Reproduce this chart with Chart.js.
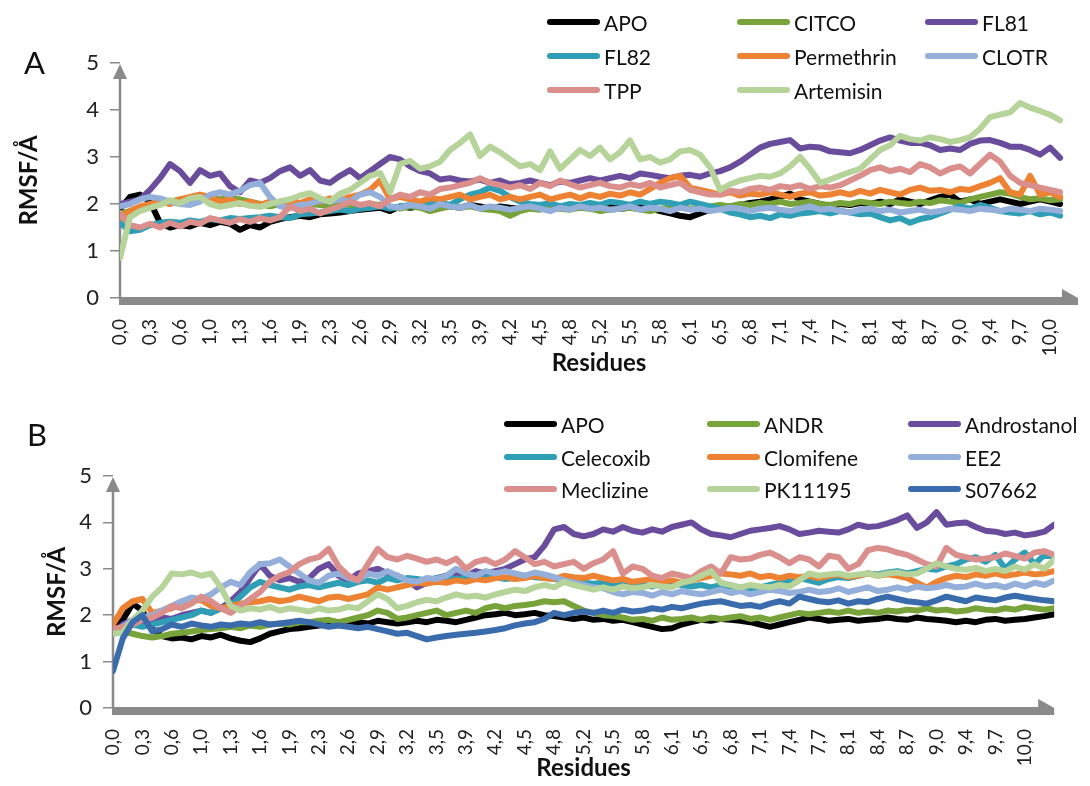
<!DOCTYPE html>
<html>
<head>
<meta charset="utf-8">
<title>RMSF per residue</title>
<script src="https://cdn.jsdelivr.net/npm/chart.js@4.4.1/dist/chart.umd.min.js"></script>
<style>
  html, body { margin: 0; padding: 0; background: #fff; }
  #page { position: relative; width: 1090px; height: 786px; overflow: hidden; font-family: Lato, "Open Sans", sans-serif; }
  .panel { position: absolute; left: 0; width: 1090px; height: 393px; }
  #panelA { top: 0; }
  #panelB { top: 393px; }
  .panel canvas { position: absolute; left: 0; top: 0; }
  .letter { position: absolute; font-size: 31px; color: #111; line-height: 1; }
  .item { position: absolute; display: flex; align-items: center; height: 26px; font-size: 21px; color: #111; white-space: nowrap; }
  .swatch { display: inline-block; width: 53px; height: 6px; border-radius: 3px; margin-right: 4px; }
</style>
</head>
<body>
<div id="page">
  <div class="panel" id="panelA">
    <canvas id="chartA" width="1090" height="393"></canvas>
    <div class="letter" style="left:24px;top:47px;">A</div>
  </div>
  <div class="panel" id="panelB">
    <canvas id="chartB" width="1090" height="393"></canvas>
    <div class="letter" style="left:27px;top:26px;">B</div>
  </div>
</div>
<script>
// Residue tick labels shared by both panels
const residueTicks = ['0,0','0,3','0,6','1,0','1,3','1,6','1,9','2,3','2,6','2,9','3,2','3,5','3,9','4,2','4,5','4,8',
  '5,2','5,5','5,8','6,1','6,5','6,8','7,1','7,4','7,7','8,1','8,4','8,7','9,0','9,4','9,7','10,0'];
// samples per tick interval
const POINTS_PER_TICK = 3;

// ---- Panel A ----
const namesA = ['APO', 'CITCO', 'FL81', 'FL82', 'Permethrin', 'CLOTR', 'TPP', 'Artemisin'];
const colorsA = ['#000000', '#77A33A', '#6A4C9C', '#2E9FB5', '#EE8233', '#94AFDA', '#DA8F8C', '#B6D39A'];

const apoA = [1.9,2.15,2.2,2.05,1.6,1.5,1.55,1.52,1.6,1.55,
  1.62,1.58,1.45,1.55,1.5,1.62,1.68,1.72,1.75,1.72,
  1.78,1.8,1.82,1.85,1.88,1.9,1.92,1.85,1.95,1.92,
  1.95,1.92,1.98,1.95,1.92,1.98,1.95,1.9,1.95,1.92,
  1.9,1.95,1.92,1.88,1.95,1.92,1.95,1.9,1.92,1.95,
  1.9,1.92,1.95,1.9,1.85,1.8,1.75,1.72,1.8,1.88,
  1.9,1.95,1.98,2.02,2.05,2.1,2.15,2.22,2.1,2.05,
  2.0,1.95,2.0,1.98,2.02,2.0,2.05,2.0,2.1,2.05,
  2.0,2.08,2.15,2.2,2.05,2.1,2.0,2.05,2.1,2.05,
  2.0,2.05,2.1,2.05,2.0];
const citcoA = [1.8,1.85,1.9,1.95,2.0,2.05,2.1,2.05,2.1,2.15,
  2.1,2.15,2.1,2.05,2.0,1.95,2.0,1.98,2.02,2.0,
  1.98,1.95,2.0,1.98,1.95,2.0,1.98,1.95,1.9,1.95,
  1.92,1.85,1.9,1.95,1.92,1.95,1.9,1.88,1.85,1.75,
  1.85,1.9,1.88,1.92,1.9,1.88,1.92,1.9,1.85,1.88,
  1.9,1.92,1.88,1.85,1.9,1.92,1.95,1.9,1.92,1.95,
  1.98,1.95,2.0,1.98,2.02,2.0,2.05,2.0,2.02,2.05,
  2.0,1.98,2.02,2.0,2.05,2.02,2.0,2.05,2.02,2.0,
  2.05,2.02,2.08,2.05,2.02,2.1,2.15,2.2,2.25,2.22,
  2.15,2.1,2.12,2.08,2.1];
const fl81A = [2.0,2.05,2.1,2.3,2.55,2.85,2.7,2.45,2.72,2.6,
  2.65,2.38,2.25,2.5,2.45,2.55,2.7,2.78,2.6,2.72,
  2.5,2.45,2.6,2.72,2.55,2.7,2.85,3.0,2.95,2.8,
  2.7,2.65,2.52,2.55,2.5,2.48,2.52,2.45,2.5,2.42,
  2.45,2.5,2.45,2.4,2.48,2.45,2.5,2.55,2.5,2.55,
  2.6,2.55,2.65,2.62,2.58,2.55,2.6,2.62,2.58,2.65,
  2.7,2.78,2.9,3.05,3.2,3.28,3.32,3.36,3.18,3.22,
  3.2,3.12,3.1,3.08,3.15,3.25,3.35,3.42,3.35,3.3,
  3.3,3.25,3.15,3.18,3.15,3.28,3.35,3.36,3.3,3.22,
  3.22,3.15,3.05,3.2,2.98];
const fl82A = [1.6,1.42,1.45,1.55,1.6,1.62,1.6,1.65,1.62,1.68,
  1.65,1.7,1.68,1.7,1.72,1.75,1.72,1.7,1.78,1.8,
  1.82,1.85,1.88,1.85,1.9,1.92,1.95,1.9,1.95,1.98,
  1.95,2.0,2.02,1.98,2.1,2.2,2.25,2.35,2.28,2.15,
  2.05,2.0,1.98,2.02,1.95,2.0,1.98,2.02,1.98,2.05,
  2.02,1.98,2.05,2.0,2.05,2.02,1.98,2.05,2.0,1.95,
  1.9,1.82,1.78,1.72,1.75,1.7,1.78,1.75,1.8,1.82,
  1.85,1.8,1.85,1.82,1.78,1.8,1.72,1.65,1.7,1.6,
  1.68,1.72,1.8,1.88,1.95,1.9,1.98,1.92,1.85,1.82,
  1.8,1.85,1.78,1.82,1.75];
const permethrinA = [1.7,1.85,1.95,2.0,2.05,2.0,2.1,2.15,2.2,2.15,
  2.05,2.1,2.0,2.05,1.98,2.05,2.0,2.08,2.02,2.1,
  2.05,2.12,2.08,2.15,2.2,2.3,2.5,2.1,2.15,2.1,
  2.05,2.12,2.1,2.15,2.2,2.1,2.15,2.2,2.1,2.15,
  2.1,2.15,2.2,2.1,2.15,2.2,2.12,2.2,2.15,2.22,
  2.18,2.25,2.2,2.32,2.45,2.55,2.6,2.35,2.3,2.25,
  2.2,2.25,2.18,2.22,2.2,2.25,2.2,2.15,2.22,2.25,
  2.18,2.2,2.25,2.2,2.28,2.22,2.3,2.25,2.2,2.3,
  2.35,2.28,2.3,2.25,2.32,2.3,2.38,2.45,2.55,2.25,
  2.2,2.6,2.2,2.25,2.15];
const clotrA = [1.95,2.0,2.1,2.15,2.12,2.05,2.0,1.98,2.05,2.2,
  2.25,2.2,2.28,2.4,2.45,2.15,1.95,1.92,1.98,2.0,
  2.08,2.05,2.1,2.05,2.2,2.25,2.15,1.95,1.92,1.98,
  1.95,1.9,2.0,1.95,1.92,1.98,1.9,1.95,1.92,1.88,
  1.92,1.95,1.9,1.85,1.92,1.88,1.95,1.9,1.92,1.88,
  1.9,1.95,1.88,1.92,1.9,1.85,1.92,1.88,1.9,1.85,
  1.88,1.92,1.9,1.85,1.9,1.92,1.88,1.85,1.9,1.95,
  1.88,1.9,1.85,1.82,1.88,1.9,1.85,1.88,1.82,1.85,
  1.88,1.82,1.85,1.9,1.88,1.85,1.9,1.88,1.85,1.9,
  1.88,1.85,1.9,1.88,1.85];
const tppA = [1.8,1.55,1.5,1.58,1.5,1.6,1.52,1.62,1.58,1.7,
  1.65,1.6,1.68,1.62,1.7,1.65,1.72,1.95,1.85,1.9,
  1.8,1.88,1.95,2.05,1.98,2.02,1.95,2.1,2.2,2.15,
  2.25,2.2,2.32,2.35,2.4,2.45,2.55,2.45,2.4,2.35,
  2.4,2.32,2.45,2.38,2.5,2.42,2.35,2.4,2.45,2.38,
  2.35,2.42,2.38,2.45,2.35,2.4,2.45,2.3,2.25,2.2,
  2.2,2.28,2.25,2.32,2.35,2.3,2.38,2.35,2.4,2.32,
  2.38,2.35,2.4,2.5,2.6,2.72,2.78,2.7,2.75,2.68,
  2.85,2.78,2.65,2.75,2.8,2.65,2.85,3.05,2.9,2.6,
  2.45,2.4,2.35,2.3,2.25];
const artemisinA = [0.85,1.72,1.85,1.92,1.98,2.08,2.02,2.12,2.15,2.0,
  1.94,1.98,2.02,1.96,1.94,2.0,2.06,2.1,2.18,2.23,
  2.12,2.05,2.22,2.3,2.45,2.6,2.66,2.25,2.85,2.92,
  2.75,2.8,2.9,3.15,3.3,3.48,3.02,3.22,3.1,2.95,
  2.8,2.85,2.72,3.12,2.75,2.95,3.15,3.02,3.2,2.95,
  3.1,3.35,2.95,3.0,2.88,2.95,3.12,3.15,3.05,2.78,
  2.3,2.42,2.5,2.55,2.6,2.58,2.65,2.8,3.0,2.75,
  2.45,2.52,2.6,2.68,2.75,2.95,3.15,3.25,3.45,3.38,
  3.35,3.42,3.38,3.32,3.36,3.42,3.6,3.85,3.9,3.95,
  4.15,4.05,3.98,3.9,3.78];
const valuesA = [apoA, citcoA, fl81A, fl82A, permethrinA, clotrA, tppA, artemisinA];

// ---- Panel B ----
const namesB = ['APO', 'ANDR', 'Androstanol', 'Celecoxib', 'Clomifene', 'EE2', 'Meclizine', 'PK11195', 'S07662'];
const colorsB = ['#000000', '#77A33A', '#6A4C9C', '#2E9FB5', '#EE8233', '#94AFDA', '#DA8F8C', '#B6D39A', '#3A6CAD'];

const apoB = [1.7,1.9,2.25,2.1,1.7,1.55,1.5,1.52,1.48,1.55,
  1.52,1.58,1.5,1.45,1.42,1.5,1.6,1.65,1.7,1.72,
  1.75,1.78,1.8,1.82,1.8,1.85,1.82,1.88,1.85,1.82,
  1.85,1.88,1.85,1.9,1.88,1.85,1.9,1.95,2.0,2.02,
  2.05,2.0,2.02,2.05,2.0,1.98,1.95,1.92,1.95,1.9,
  1.92,1.88,1.9,1.85,1.8,1.75,1.7,1.72,1.8,1.85,
  1.9,1.88,1.92,1.9,1.88,1.85,1.8,1.75,1.8,1.85,
  1.9,1.95,1.92,1.88,1.9,1.92,1.88,1.9,1.92,1.95,
  1.92,1.9,1.95,1.92,1.9,1.88,1.85,1.88,1.85,1.9,
  1.92,1.88,1.9,1.92,1.95,1.98,2.02];
const andrB = [1.7,1.65,1.6,1.55,1.52,1.55,1.6,1.62,1.65,1.68,
  1.7,1.72,1.75,1.72,1.78,1.75,1.8,1.82,1.8,1.85,
  1.85,1.88,1.9,1.85,1.9,1.95,2.0,2.1,2.05,1.92,
  1.95,2.0,2.05,2.1,2.0,2.05,2.1,2.05,2.15,2.2,
  2.15,2.2,2.22,2.25,2.3,2.28,2.3,2.2,2.1,2.05,
  2.0,1.98,1.95,1.9,1.92,1.88,1.95,1.9,1.92,1.95,
  1.9,1.95,1.92,1.95,1.98,1.92,1.95,1.9,1.95,2.0,
  2.05,2.02,2.05,2.08,2.05,2.1,2.05,2.08,2.05,2.1,
  2.08,2.12,2.1,2.15,2.1,2.12,2.08,2.1,2.15,2.12,
  2.1,2.15,2.12,2.18,2.15,2.12,2.15];
const androstanolB = [1.6,1.8,1.9,1.85,1.9,1.95,1.92,2.0,2.05,2.1,
  2.05,2.15,2.3,2.5,2.8,3.1,2.85,2.75,2.8,2.72,
  2.8,3.0,3.1,2.85,2.75,2.9,2.95,3.0,2.9,2.85,
  2.75,2.6,2.7,2.8,2.85,2.9,2.85,2.95,2.9,2.95,
  3.0,3.1,3.2,3.25,3.5,3.85,3.9,3.75,3.7,3.75,
  3.85,3.8,3.9,3.82,3.78,3.85,3.8,3.9,3.95,4.0,
  3.85,3.75,3.72,3.68,3.75,3.82,3.85,3.88,3.92,3.85,
  3.75,3.78,3.82,3.8,3.78,3.85,3.95,3.9,3.92,3.98,
  4.05,4.15,3.88,4.0,4.22,3.95,3.98,4.0,3.9,3.82,
  3.8,3.75,3.78,3.72,3.75,3.8,3.95];
const celecoxibB = [1.6,1.7,1.8,1.75,1.8,1.85,1.9,1.95,2.0,2.1,
  2.05,2.15,2.2,2.4,2.6,2.72,2.65,2.6,2.55,2.62,
  2.65,2.6,2.65,2.7,2.65,2.72,2.75,2.7,2.8,2.75,
  2.8,2.78,2.75,2.8,2.82,2.78,2.8,2.85,2.8,2.82,
  2.78,2.8,2.85,2.82,2.8,2.78,2.75,2.72,2.7,2.68,
  2.7,2.65,2.68,2.7,2.65,2.62,2.68,2.7,2.65,2.62,
  2.65,2.6,2.65,2.62,2.6,2.55,2.6,2.65,2.7,2.75,
  2.8,2.75,2.7,2.78,2.82,2.8,2.85,2.9,2.88,2.92,
  2.95,2.9,2.95,3.0,2.98,3.05,3.1,3.2,3.25,3.15,
  3.3,3.0,3.2,3.35,3.1,3.3,3.25];
const clomifeneB = [1.8,2.15,2.3,2.35,2.05,2.1,2.15,2.25,2.3,2.33,
  2.2,2.15,2.2,2.25,2.28,2.3,2.35,2.3,2.33,2.4,
  2.35,2.3,2.38,2.4,2.35,2.4,2.45,2.6,2.55,2.6,
  2.65,2.7,2.68,2.72,2.7,2.75,2.72,2.78,2.75,2.8,
  2.82,2.78,2.8,2.85,2.8,2.78,2.85,2.82,2.8,2.85,
  2.8,2.75,2.78,2.72,2.75,2.78,2.72,2.75,2.7,2.75,
  2.8,2.85,2.9,2.88,2.85,2.9,2.82,2.85,2.8,2.85,
  2.82,2.85,2.8,2.85,2.88,2.82,2.85,2.9,2.85,2.88,
  2.85,2.8,2.7,2.6,2.72,2.8,2.85,2.82,2.88,2.85,
  2.9,2.85,2.88,2.92,2.88,2.9,2.95];
const ee2B = [1.6,1.75,1.9,1.95,2.0,2.1,2.2,2.3,2.38,2.35,
  2.45,2.6,2.72,2.65,2.93,3.1,3.12,3.2,3.05,2.9,
  2.75,2.7,2.85,2.9,2.8,2.75,2.9,2.85,2.95,2.85,
  2.75,2.72,2.8,2.78,2.85,3.0,2.9,2.85,2.95,2.9,
  2.95,2.9,2.85,2.92,2.88,2.82,2.75,2.7,2.65,2.6,
  2.58,2.5,2.45,2.5,2.48,2.42,2.5,2.45,2.52,2.48,
  2.45,2.5,2.55,2.48,2.52,2.45,2.5,2.55,2.52,2.48,
  2.5,2.55,2.5,2.52,2.58,2.5,2.55,2.6,2.52,2.55,
  2.6,2.55,2.62,2.58,2.6,2.65,2.6,2.62,2.68,2.62,
  2.65,2.6,2.68,2.62,2.7,2.65,2.75];
const meclizineB = [1.7,1.75,1.8,1.9,1.95,2.05,2.2,2.15,2.25,2.4,
  2.3,2.15,2.05,2.2,2.35,2.5,2.72,2.85,2.93,3.1,
  3.2,3.25,3.43,3.05,2.85,2.75,3.1,3.43,3.25,3.2,
  3.28,3.22,3.15,3.2,3.12,3.22,3.0,3.15,3.2,3.1,
  3.2,3.38,3.25,3.1,3.15,3.05,3.1,3.15,3.0,3.12,
  3.2,3.38,2.9,3.05,3.0,2.85,2.8,2.9,2.85,2.8,
  2.95,3.05,2.9,3.25,3.2,3.22,3.3,3.35,3.25,3.12,
  3.25,3.2,3.05,3.28,3.25,3.0,3.1,3.4,3.45,3.42,
  3.35,3.3,3.2,3.1,3.05,3.45,3.3,3.25,3.2,3.22,
  3.25,3.33,3.28,3.22,3.35,3.38,3.3];
const pk11195B = [1.6,1.62,1.9,2.1,2.4,2.6,2.9,2.88,2.92,2.85,
  2.9,2.6,2.2,2.1,2.15,2.12,2.18,2.1,2.15,2.12,
  2.08,2.15,2.1,2.12,2.18,2.15,2.3,2.45,2.35,2.15,
  2.2,2.28,2.33,2.3,2.38,2.45,2.4,2.42,2.38,2.45,
  2.5,2.55,2.52,2.6,2.65,2.6,2.72,2.65,2.6,2.55,
  2.6,2.55,2.62,2.58,2.6,2.65,2.62,2.6,2.7,2.75,
  2.85,2.95,2.7,2.65,2.6,2.65,2.62,2.6,2.65,2.62,
  2.75,2.9,2.85,2.88,2.9,2.85,2.88,2.9,2.85,2.9,
  2.92,2.88,2.9,3.0,3.12,3.05,3.0,2.98,3.02,2.95,
  3.0,2.95,3.05,2.98,3.1,3.0,3.2];
const s07662B = [0.8,1.5,1.85,2.0,1.65,1.7,1.8,1.75,1.82,1.78,
  1.75,1.8,1.78,1.82,1.8,1.85,1.8,1.82,1.85,1.88,
  1.85,1.8,1.75,1.78,1.75,1.72,1.75,1.7,1.65,1.6,
  1.62,1.55,1.48,1.52,1.55,1.58,1.6,1.62,1.65,1.68,
  1.72,1.78,1.82,1.85,1.92,2.05,2.0,2.05,2.08,2.05,
  2.1,2.05,2.12,2.08,2.1,2.15,2.12,2.18,2.15,2.2,
  2.25,2.28,2.3,2.25,2.2,2.22,2.18,2.25,2.3,2.25,
  2.4,2.35,2.3,2.28,2.32,2.25,2.3,2.28,2.35,2.4,
  2.35,2.3,2.28,2.25,2.32,2.4,2.35,2.3,2.38,2.35,
  2.32,2.38,2.42,2.38,2.35,2.32,2.3];
const valuesB = [apoB, andrB, androstanolB, celecoxibB, clomifeneB, ee2B, meclizineB, pk11195B, s07662B];

const AXIS_GREY = '#8a8a8a';
const FONT = 'Lato, "Open Sans", sans-serif';

// Axis line with arrow head on Y, thick bar with arrow head on X
const axisArrows = {
  id: 'axisArrows',
  beforeDatasetsDraw(chart) {
    const { ctx, chartArea: a } = chart;
    ctx.save();
    ctx.fillStyle = AXIS_GREY;
    ctx.strokeStyle = AXIS_GREY;
    ctx.lineWidth = 2.5;
    ctx.beginPath();
    ctx.moveTo(a.left, a.bottom);
    ctx.lineTo(a.left, a.top + 12);
    ctx.stroke();
    ctx.beginPath();
    ctx.moveTo(a.left, a.top + 1);
    ctx.lineTo(a.left - 7, a.top + 16);
    ctx.lineTo(a.left + 7, a.top + 16);
    ctx.closePath();
    ctx.fill();
    ctx.fillRect(a.left - 1, a.bottom - 1, a.right - a.left - 14, 8);
    ctx.beginPath();
    ctx.moveTo(a.right - 16, a.bottom - 9);
    ctx.lineTo(a.right, a.bottom);
    ctx.lineTo(a.right, a.bottom + 7);
    ctx.lineTo(a.right - 16, a.bottom + 7);
    ctx.closePath();
    ctx.fill();
    ctx.restore();
  }
};

function makePanel(canvasId, names, colors, values, geo) {
  const n = values.length;
  const datasets = values.map((vals, k) => ({
    label: names[k],
    data: vals.map((v, i) => ({ x: i / POINTS_PER_TICK, y: v })),
    borderColor: colors[k],
    backgroundColor: colors[k],
    borderWidth: 6,
    pointRadius: 0,
    tension: 0,
    fill: false,
    borderJoinStyle: 'round',
    borderCapStyle: 'round',
    order: n - k
  }));
  return new Chart(document.getElementById(canvasId), {
    type: 'line',
    data: { datasets },
    options: {
      responsive: false,
      animation: false,
      devicePixelRatio: 1,
      layout: { padding: { left: 0, top: geo.top, right: geo.right, bottom: 0 } },
      plugins: { legend: { display: false }, tooltip: { enabled: false } },
      scales: {
        x: {
          type: 'linear',
          min: 0,
          max: geo.xMax,
          grid: { display: false },
          border: { display: false },
          ticks: {
            stepSize: 1,
            maxTicksLimit: 100,
            includeBounds: false,
            autoSkip: false,
            minRotation: 90,
            maxRotation: 90,
            padding: 13,
            color: '#222',
            font: { family: FONT, size: 19 },
            callback: (v) => {
              const k = Math.round(v);
              return Math.abs(v - k) < 1e-6 && k < residueTicks.length ? residueTicks[k] : '';
            }
          },
          title: {
            display: true,
            text: 'Residues',
            color: '#111',
            font: { family: FONT, size: 24, weight: 'bold' },
            padding: { top: 0, bottom: geo.xTitlePad }
          },
          afterFit(s) { s.height = geo.xHeight; }
        },
        y: {
          min: 0,
          max: 5,
          border: { display: false },
          grid: { display: true, drawOnChartArea: false, drawTicks: true, tickLength: 10, color: AXIS_GREY, lineWidth: 1.5 },
          ticks: { stepSize: 1, padding: 11, color: '#222', font: { family: FONT, size: 22 } },
          title: {
            display: true,
            text: 'RMSF/Å',
            color: '#111',
            font: { family: FONT, size: 24, weight: 'bold' },
            padding: { top: geo.yTitlePad, bottom: 0 }
          },
          afterFit(s) { s.width = geo.yWidth; }
        }
      }
    },
    plugins: [axisArrows]
  });
}

function buildLegend(panelId, names, colors, colX, rowY) {
  const panel = document.getElementById(panelId);
  names.forEach((name, k) => {
    const item = document.createElement('div');
    item.className = 'item';
    item.style.left = colX[k % 3] + 'px';
    item.style.top = (rowY[Math.floor(k / 3)] - 13) + 'px';
    const sw = document.createElement('span');
    sw.className = 'swatch';
    sw.style.background = colors[k];
    const tx = document.createElement('span');
    tx.textContent = name;
    item.appendChild(sw);
    item.appendChild(tx);
    panel.appendChild(item);
  });
}

function draw() {
  makePanel('chartA', namesA, colorsA, valuesA,
    { top: 63, right: 12, xMax: 31.93, xHeight: 95, xTitlePad: 15, yWidth: 120, yTitlePad: 15 });
  makePanel('chartB', namesB, colorsB, valuesB,
    { top: 83, right: 27, xMax: 32, xHeight: 78, xTitlePad: 3, yWidth: 113, yTitlePad: 43 });
  buildLegend('panelA', namesA, colorsA, [547, 737, 925], [22, 56, 90]);
  buildLegend('panelB', namesB, colorsB, [504, 707, 908], [31, 64, 96]);
}

if (document.fonts && document.fonts.load) {
  Promise.all([
    document.fonts.load('22px Lato'),
    document.fonts.load('bold 24px Lato')
  ]).then(draw, draw);
} else {
  draw();
}
</script>
</body>
</html>
